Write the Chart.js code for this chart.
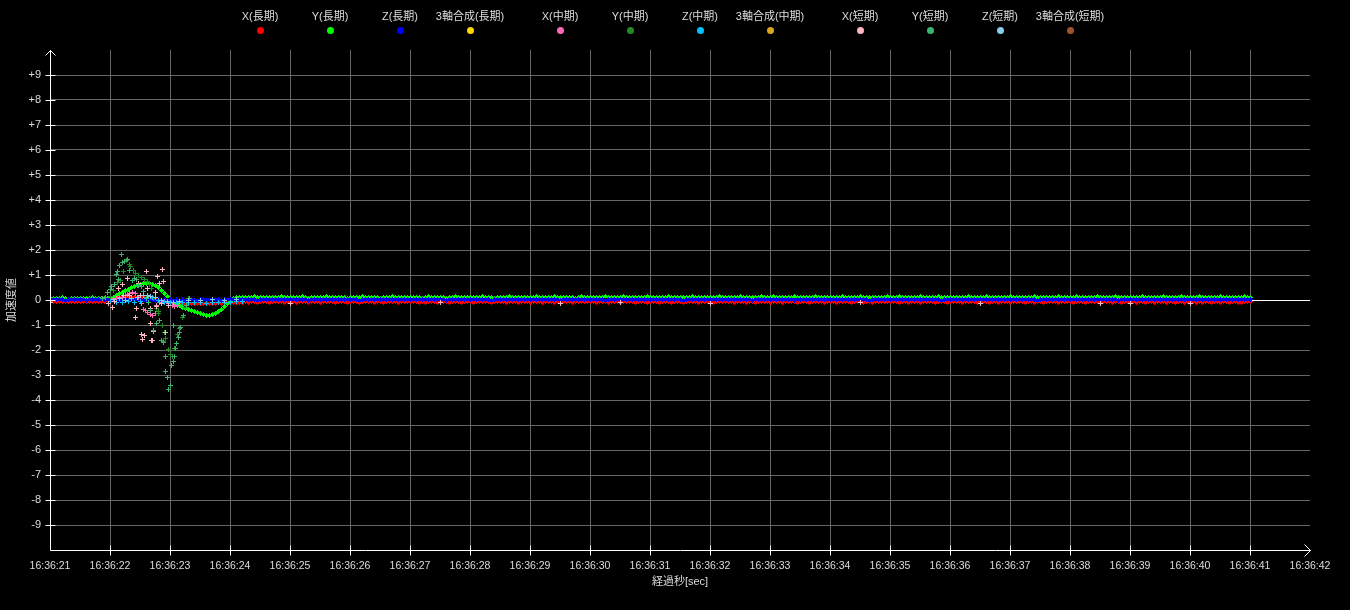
<!DOCTYPE html>
<html lang="ja">
<head>
<meta charset="utf-8">
<title>加速度値</title>
<script src="https://cdn.jsdelivr.net/npm/chart.js@4.4.1/dist/chart.umd.min.js"></script>
<style>
  html, body { margin: 0; padding: 0; background: #000; }
  #wrap { position: relative; width: 1350px; height: 610px; background: #000; }
  #legend { position: absolute; left: 0; top: 0; width: 1350px; height: 40px; }
  .lg-item {
    position: absolute; top: 9px; width: 120px; text-align: center;
    color: #ddd; font: 11px 'Liberation Sans', 'Noto Sans CJK JP', sans-serif; line-height: 14px;
    white-space: nowrap;
  }
  .lg-dot { display: block; width: 7px; height: 7px; border-radius: 50%; margin: 4px auto 0; }
</style>
</head>
<body>
<div id="wrap">
  <canvas id="accelChart" width="1350" height="610"></canvas>
  <div id="legend"></div>
</div>
<script>
// 系列名
const seriesLabels = [
    'X(長期)', 'Y(長期)', 'Z(長期)', '3軸合成(長期)',
    'X(中期)', 'Y(中期)', 'Z(中期)', '3軸合成(中期)',
    'X(短期)', 'Y(短期)', 'Z(短期)', '3軸合成(短期)'
];
const startSecond = 21; // 16:36:21

// 長期: 0.05秒ごとのサンプル (16:36:21.00 〜 16:36:41.00)
const xLong = [
    -0.04,-0.05,-0.06,-0.04,-0.05,-0.07,-0.04,-0.06,-0.05,-0.04,-0.06,-0.05,-0.07,-0.04,-0.05,-0.06,-0.04,-0.05,-0.06,-0.03,
    0.02,0.05,0.08,0.1,0.12,0.12,0.13,0.12,0.12,0.11,0.1,0.09,0.08,0.06,0.05,0.03,0.02,0.0,-0.03,-0.06,
    -0.08,-0.1,-0.12,-0.13,-0.14,-0.14,-0.15,-0.14,-0.13,-0.14,-0.15,-0.14,-0.13,-0.12,-0.13,-0.12,-0.11,-0.12,-0.1,-0.11,
    -0.1,-0.09,-0.1,-0.08,-0.09,-0.07,-0.08,-0.06,-0.07,-0.08,-0.06,-0.07,-0.05,-0.08,-0.06,-0.07,-0.05,-0.06,-0.08,-0.06,
    -0.06,-0.05,-0.08,-0.07,-0.04,-0.06,-0.09,-0.05,-0.07,-0.06,-0.08,-0.05,-0.06,-0.07,-0.04,-0.08,-0.06,-0.05,-0.07,-0.09,
    -0.05,-0.07,-0.06,-0.08,-0.05,-0.06,-0.04,-0.07,-0.09,-0.06,-0.05,-0.08,-0.07,-0.06,-0.05,-0.07,-0.08,-0.06,-0.04,-0.07,
    -0.07,-0.06,-0.05,-0.08,-0.06,-0.09,-0.07,-0.05,-0.06,-0.08,-0.07,-0.04,-0.06,-0.08,-0.05,-0.07,-0.06,-0.09,-0.05,-0.06,
    -0.06,-0.08,-0.07,-0.05,-0.06,-0.07,-0.05,-0.08,-0.06,-0.04,-0.07,-0.06,-0.08,-0.05,-0.07,-0.06,-0.09,-0.05,-0.06,-0.07,
    -0.08,-0.05,-0.06,-0.07,-0.09,-0.06,-0.05,-0.07,-0.08,-0.06,-0.05,-0.07,-0.04,-0.06,-0.08,-0.07,-0.05,-0.06,-0.07,-0.05,
    -0.05,-0.06,-0.08,-0.06,-0.07,-0.05,-0.08,-0.06,-0.05,-0.07,-0.09,-0.06,-0.07,-0.05,-0.06,-0.08,-0.04,-0.07,-0.06,-0.08,
    -0.07,-0.05,-0.06,-0.08,-0.05,-0.07,-0.06,-0.09,-0.07,-0.05,-0.06,-0.08,-0.06,-0.07,-0.05,-0.06,-0.08,-0.07,-0.05,-0.06,
    -0.06,-0.08,-0.05,-0.07,-0.06,-0.04,-0.07,-0.06,-0.08,-0.05,-0.07,-0.06,-0.09,-0.05,-0.07,-0.08,-0.06,-0.05,-0.07,-0.06,
    -0.08,-0.06,-0.07,-0.05,-0.08,-0.06,-0.05,-0.07,-0.06,-0.09,-0.05,-0.06,-0.07,-0.08,-0.05,-0.06,-0.07,-0.05,-0.08,-0.06,
    -0.05,-0.07,-0.08,-0.06,-0.05,-0.07,-0.06,-0.08,-0.05,-0.06,-0.07,-0.09,-0.06,-0.05,-0.08,-0.07,-0.06,-0.04,-0.07,-0.06,
    -0.07,-0.06,-0.05,-0.08,-0.07,-0.06,-0.09,-0.05,-0.07,-0.06,-0.08,-0.05,-0.06,-0.07,-0.06,-0.08,-0.05,-0.07,-0.06,-0.08,
    -0.06,-0.05,-0.07,-0.06,-0.08,-0.05,-0.07,-0.06,-0.05,-0.08,-0.06,-0.07,-0.05,-0.09,-0.06,-0.07,-0.08,-0.06,-0.05,-0.07,
    -0.08,-0.07,-0.06,-0.05,-0.07,-0.08,-0.06,-0.05,-0.09,-0.07,-0.06,-0.08,-0.05,-0.07,-0.06,-0.05,-0.08,-0.07,-0.06,-0.05,
    -0.06,-0.08,-0.07,-0.06,-0.05,-0.08,-0.07,-0.06,-0.05,-0.07,-0.08,-0.06,-0.07,-0.05,-0.09,-0.06,-0.07,-0.08,-0.05,-0.06,
    -0.07,-0.05,-0.08,-0.07,-0.06,-0.09,-0.05,-0.07,-0.08,-0.06,-0.07,-0.05,-0.08,-0.06,-0.07,-0.09,-0.06,-0.05,-0.08,-0.07,
    -0.06,-0.07,-0.09,-0.05,-0.08,-0.06,-0.07,-0.08,-0.06,-0.05,-0.09,-0.07,-0.06,-0.08,-0.07,-0.05,-0.08,-0.09,-0.06,-0.07,
    -0.06
];
const yLong = [
    0.06,0.08,0.05,0.07,0.09,0.06,0.04,0.07,0.08,0.06,0.05,0.08,0.07,0.06,0.09,0.05,0.07,0.06,0.08,0.06,
    0.05,0.1,0.18,0.25,0.32,0.38,0.44,0.49,0.54,0.58,0.62,0.65,0.67,0.67,0.64,0.58,0.5,0.4,0.28,0.15,
    0.0,-0.08,-0.15,-0.22,-0.28,-0.33,-0.37,-0.41,-0.45,-0.5,-0.54,-0.58,-0.6,-0.6,-0.58,-0.53,-0.47,-0.38,-0.27,-0.15,
    -0.04,0.06,0.1,0.11,0.09,0.12,0.1,0.11,0.13,0.1,0.09,0.12,0.11,0.1,0.12,0.09,0.11,0.13,0.1,0.11,
    0.1,0.12,0.09,0.11,0.13,0.1,0.08,0.11,0.12,0.1,0.09,0.11,0.13,0.1,0.12,0.09,0.11,0.1,0.12,0.08,
    0.11,0.09,0.12,0.1,0.13,0.11,0.09,0.1,0.12,0.11,0.08,0.12,0.1,0.11,0.13,0.09,0.1,0.12,0.11,0.1,
    0.09,0.12,0.1,0.11,0.08,0.12,0.13,0.1,0.09,0.11,0.12,0.1,0.08,0.11,0.1,0.13,0.12,0.09,0.11,0.1,
    0.12,0.1,0.11,0.09,0.13,0.1,0.12,0.11,0.08,0.1,0.12,0.11,0.1,0.13,0.09,0.11,0.12,0.1,0.09,0.12,
    0.1,0.11,0.13,0.09,0.1,0.12,0.11,0.1,0.13,0.12,0.09,0.1,0.11,0.12,0.1,0.08,0.11,0.13,0.1,0.11,
    0.11,0.1,0.09,0.12,0.11,0.13,0.1,0.09,0.11,0.12,0.1,0.13,0.11,0.09,0.12,0.1,0.11,0.1,0.12,0.13,
    0.1,0.12,0.11,0.1,0.09,0.11,0.13,0.12,0.1,0.09,0.11,0.12,0.1,0.11,0.13,0.1,0.09,0.12,0.11,0.1,
    0.12,0.11,0.1,0.13,0.1,0.09,0.12,0.11,0.1,0.12,0.13,0.1,0.09,0.11,0.1,0.12,0.11,0.13,0.1,0.09,
    0.11,0.13,0.1,0.12,0.11,0.1,0.09,0.12,0.13,0.11,0.1,0.12,0.11,0.09,0.1,0.13,0.12,0.1,0.11,0.12,
    0.1,0.09,0.12,0.11,0.13,0.1,0.11,0.12,0.1,0.09,0.13,0.11,0.12,0.1,0.11,0.09,0.12,0.11,0.1,0.13,
    0.12,0.1,0.11,0.13,0.09,0.12,0.1,0.11,0.12,0.1,0.13,0.09,0.11,0.12,0.1,0.11,0.13,0.1,0.12,0.11,
    0.11,0.12,0.1,0.09,0.12,0.11,0.13,0.1,0.11,0.12,0.09,0.1,0.13,0.11,0.12,0.1,0.09,0.11,0.12,0.1,
    0.13,0.11,0.1,0.12,0.11,0.09,0.1,0.12,0.13,0.11,0.1,0.12,0.11,0.1,0.09,0.12,0.13,0.11,0.1,0.12,
    0.1,0.12,0.13,0.11,0.1,0.12,0.09,0.11,0.1,0.13,0.12,0.11,0.1,0.12,0.11,0.13,0.1,0.09,0.12,0.11,
    0.12,0.11,0.09,0.1,0.13,0.12,0.11,0.1,0.12,0.09,0.11,0.13,0.12,0.1,0.11,0.12,0.1,0.13,0.11,0.1,
    0.11,0.1,0.12,0.13,0.11,0.09,0.12,0.1,0.11,0.12,0.13,0.11,0.1,0.12,0.09,0.11,0.12,0.1,0.13,0.11,
    0.12
];
const zLong = [
    0.02,0.03,0.01,0.04,0.02,0.0,0.03,0.02,0.04,0.01,0.02,0.03,0.0,0.02,0.04,0.01,0.03,0.02,0.01,0.03,
    0.02,0.01,0.03,0.0,0.02,0.01,-0.01,0.02,0.0,0.01,0.03,0.0,-0.01,0.02,0.01,0.0,0.02,-0.01,0.01,0.0,
    0.01,0.0,0.02,-0.01,0.01,0.0,0.02,0.01,-0.01,0.0,0.02,0.01,0.0,0.02,-0.01,0.01,0.02,0.0,0.01,0.02,
    0.02,0.03,0.01,0.02,0.04,0.02,0.01,0.03,0.02,0.0,0.03,0.02,0.04,0.01,0.02,0.03,0.01,0.02,0.04,0.02,
    0.03,0.01,0.02,0.04,0.02,0.03,0.0,0.02,0.03,0.01,0.04,0.02,0.01,0.03,0.02,0.04,0.02,0.01,0.03,0.02,
    0.01,0.03,0.02,0.0,0.03,0.02,0.04,0.01,0.02,0.03,0.02,0.01,0.04,0.02,0.03,0.01,0.02,0.04,0.02,0.03,
    0.02,0.04,0.01,0.03,0.02,0.01,0.03,0.04,0.02,0.01,0.02,0.03,0.0,0.02,0.04,0.03,0.01,0.02,0.03,0.01,
    0.03,0.02,0.04,0.01,0.02,0.03,0.02,0.0,0.03,0.04,0.01,0.02,0.03,0.02,0.01,0.04,0.02,0.03,0.01,0.02,
    0.02,0.01,0.03,0.02,0.04,0.02,0.01,0.03,0.02,0.03,0.0,0.04,0.02,0.01,0.03,0.02,0.04,0.01,0.02,0.03,
    0.04,0.02,0.01,0.03,0.02,0.0,0.03,0.02,0.04,0.01,0.03,0.02,0.01,0.04,0.02,0.03,0.02,0.01,0.03,0.02,
    0.01,0.03,0.04,0.02,0.01,0.03,0.02,0.04,0.01,0.02,0.03,0.0,0.02,0.03,0.04,0.01,0.02,0.03,0.02,0.04,
    0.03,0.02,0.01,0.04,0.03,0.02,0.01,0.02,0.03,0.04,0.02,0.01,0.03,0.02,0.0,0.03,0.04,0.02,0.01,0.03,
    0.02,0.04,0.03,0.01,0.02,0.03,0.04,0.02,0.0,0.03,0.02,0.04,0.01,0.03,0.02,0.01,0.03,0.04,0.02,0.01,
    0.03,0.01,0.02,0.03,0.04,0.01,0.02,0.03,0.02,0.04,0.01,0.03,0.02,0.0,0.03,0.02,0.04,0.01,0.03,0.02,
    0.01,0.02,0.04,0.02,0.03,0.01,0.03,0.02,0.04,0.02,0.01,0.03,0.04,0.02,0.01,0.02,0.03,0.0,0.02,0.04,
    0.02,0.03,0.01,0.04,0.02,0.03,0.02,0.01,0.03,0.02,0.04,0.02,0.03,0.01,0.04,0.02,0.01,0.03,0.02,0.03,
    0.04,0.02,0.03,0.01,0.02,0.04,0.01,0.03,0.02,0.0,0.02,0.03,0.04,0.02,0.01,0.03,0.02,0.04,0.01,0.02,
    0.02,0.03,0.02,0.04,0.01,0.02,0.03,0.04,0.01,0.03,0.02,0.01,0.02,0.04,0.03,0.02,0.0,0.03,0.02,0.04,
    0.03,0.01,0.04,0.02,0.03,0.02,0.01,0.03,0.04,0.02,0.03,0.01,0.02,0.03,0.02,0.04,0.03,0.01,0.02,0.03,
    0.01,0.03,0.02,0.03,0.04,0.02,0.03,0.01,0.02,0.04,0.02,0.03,0.01,0.02,0.04,0.03,0.02,0.01,0.03,0.02,
    0.02
];

// X(短期): 静かな区間で帯の下にのぞく値 (0.5秒ごと、見えない所は null)
const xShortCalm = [-0.11,null,null,null,null,null,null,null,-0.12,null,null,null,null,-0.11,null,null,null,-0.12,null,-0.11,null,null,-0.12,null,null,null,null,-0.11,null,null,null,-0.12,null,null,null,-0.13,-0.13,null,-0.13,null,null];

// 揺れの区間の個別サンプル (経過秒, 値)
const xMidT = [1.05,1.1,1.15,1.2,1.25,1.29,1.33,1.37,1.42,1.47,1.52,1.56,1.59,1.63,1.68,1.71,1.75,1.78,1.83,1.9,1.97,2.04,2.08,2.12,2.2];
const xMidV = [0.05,0.08,0.12,0.1,0.18,0.22,0.27,0.3,0.25,0.12,-0.15,-0.37,-0.42,-0.48,-0.58,-0.62,-0.52,-0.2,-0.1,-0.05,-0.12,-0.2,-0.27,-0.22,-0.1];
const yMidT = [1.0,1.06,1.12,1.17,1.22,1.28,1.32,1.34,1.39,1.42,1.47,1.53,1.57,1.63,1.66,1.69,1.73,1.77,1.8,1.81,1.83,1.87,1.89,1.9,1.93,1.97,2.01,2.04,2.08,2.12,2.16,2.2,2.25,2.3];
const yMidV = [0.15,0.4,0.7,0.8,1.13,1.57,1.44,1.36,1.2,1.07,1.0,0.91,0.83,0.76,0.62,0.47,0.07,-0.33,-0.44,-0.53,-0.8,-1.0,-1.67,-1.31,-1.55,-1.97,-2.17,-2.24,-1.93,-1.36,-1.13,-0.7,-0.3,0.05];
const zMidT = [1.0,1.1,1.2,1.3,1.4,1.5,1.6,1.7,1.8,1.9,2.0,2.1,2.2,2.3,2.4,2.5,2.6,2.7,2.8,2.9,3.0,3.1,3.2];
const zMidV = [-0.04,-0.08,-0.1,-0.06,-0.09,-0.05,0.05,0.1,-0.02,-0.08,-0.1,-0.09,-0.11,-0.08,-0.1,-0.09,-0.12,-0.1,-0.08,-0.11,-0.09,-0.07,-0.05];
const xShortT = [0.97,1.04,1.08,1.14,1.21,1.22,1.29,1.33,1.42,1.44,1.47,1.5,1.53,1.54,1.58,1.61,1.63,1.67,1.68,1.69,1.71,1.72,1.75,1.77,1.79,1.82,1.86,1.87,1.89,1.93,1.97,2.05];
const xShortV = [-0.13,-0.31,-0.07,0.47,0.63,0.2,0.87,0.2,-0.69,-0.33,0.67,0.2,-1.36,-1.57,-1.43,1.13,0.47,-0.33,-0.93,-1.63,-1.6,-1.27,0.29,-0.27,0.96,0.67,-0.13,1.23,0.73,-1.31,-0.2,-0.1];
const yShortT = [0.88,0.93,0.96,1.0,1.03,1.07,1.1,1.12,1.14,1.16,1.19,1.21,1.24,1.29,1.33,1.37,1.41,1.44,1.48,1.52,1.56,1.6,1.64,1.68,1.73,1.77,1.82,1.86,1.89,1.92,1.93,1.96,1.98,2.01,2.03,2.05,2.06,2.07,2.09,2.11,2.14,2.16,2.18,2.22,2.27,2.33];
const yShortV = [0.05,0.12,0.31,0.42,0.55,0.64,1.04,1.13,0.83,1.4,1.83,1.49,1.55,1.63,1.2,0.8,0.85,0.83,0.6,0.55,0.35,0.12,-0.1,-0.4,-1.23,-0.95,-0.8,-1.6,-1.71,-2.27,-2.87,-3.1,-3.56,-3.43,-2.6,-2.45,-1.0,-2.27,-1.95,-1.73,-1.5,-1.31,-1.09,-0.6,-0.2,0.05];
const zShortT = [1.05,1.15,1.25,1.35,1.45,1.55,1.62,1.68,1.75,1.85,1.95,2.05,2.15,2.3,2.5,2.7,2.9,3.1];
const zShortV = [0.02,0.05,-0.03,0.08,0.12,0.18,0.2,0.15,0.1,0.0,-0.05,-0.08,-0.04,0.0,-0.03,0.02,-0.02,0.01];

const SAMPLE_STEP = 0.05;
const CALM_STEP = 0.5;

const seriesColors = [
    '#ff0000', '#00ff00', '#0000ff', '#ffd700',
    '#ff69b4', '#228b22', '#00bfff', '#daa520',
    '#ffb6c1', '#3cb371', '#87ceeb', '#a0522d'
];

const FONT = "'Liberation Sans', 'Noto Sans CJK JP', sans-serif";
const TEXT_COLOR = '#dddddd';
const GRID_COLOR = '#666666';

function longPoints(values) {
    return values.map((v, i) => ({ x: +(i * SAMPLE_STEP).toFixed(2), y: v }));
}

function burstPoints(times, values, calm) {
    const pts = [];
    if (calm) calm.forEach((v, i) => { if (v !== null) pts.push({ x: i * CALM_STEP, y: v }); });
    times.forEach((t, i) => pts.push({ x: t, y: values[i] }));
    return pts;
}

// くっきりしたマーカー: 長期は太め、中期・短期は細い十字
const LONG_MARK = ['..#..', '.###.', '#####', '.###.', '..#..'];
const THIN_MARK = ['..#..', '..#..', '#####', '..#..', '..#..'];
function marker(color, rows) {
    const c = document.createElement('canvas');
    c.width = rows[0].length;
    c.height = rows.length;
    const g = c.getContext('2d');
    g.fillStyle = color;
    rows.forEach((row, r) => {
        for (let k = 0; k < row.length; k++) if (row[k] === '#') g.fillRect(k, r, 1, 1);
    });
    return c;
}

const seriesData = [
    longPoints(xLong), longPoints(yLong), longPoints(zLong), [],
    burstPoints(xMidT, xMidV), burstPoints(yMidT, yMidV), burstPoints(zMidT, zMidV), [],
    burstPoints(xShortT, xShortV, xShortCalm), burstPoints(yShortT, yShortV), burstPoints(zShortT, zShortV), []
];

const crispPoints = {
    id: 'crispPoints',
    beforeDatasetsDraw(chart) { chart.ctx.imageSmoothingEnabled = false; },
    afterDatasetsDraw(chart) { chart.ctx.imageSmoothingEnabled = true; }
};

// 軸線・矢印・目盛り線
const axisArrows = {
    id: 'axisArrows',
    afterDatasetsDraw(chart) {
        const { ctx, chartArea: a, scales: { x, y } } = chart;
        const x0 = Math.round(a.left) + 0.5;
        const yb = Math.round(a.bottom) + 0.5;
        const xr = Math.round(a.right) + 0.5;
        const yt = Math.round(a.top) + 0.5;
        ctx.save();
        ctx.strokeStyle = '#ffffff';
        ctx.lineWidth = 1;
        ctx.beginPath();
        ctx.moveTo(x0, yb);
        ctx.lineTo(x0, yt);
        ctx.moveTo(x0 - 5, yt + 5);
        ctx.lineTo(x0, yt);
        ctx.lineTo(x0 + 5, yt + 5);
        ctx.moveTo(x0, yb);
        ctx.lineTo(xr, yb);
        ctx.moveTo(xr - 6, yb - 6);
        ctx.lineTo(xr, yb);
        ctx.lineTo(xr - 6, yb + 6);
        y.ticks.forEach(t => {
            if (Math.abs(t.value) < 10) {
                const py = Math.round(y.getPixelForValue(t.value)) + 0.5;
                ctx.moveTo(x0 - 5, py);
                ctx.lineTo(x0 + 5, py);
            }
        });
        x.ticks.forEach(t => {
            if (t.value > 0 && t.value < 21) {
                const px = Math.round(x.getPixelForValue(t.value)) + 0.5;
                ctx.moveTo(px, yb - 5);
                ctx.lineTo(px, yb + 5);
            }
        });
        ctx.stroke();
        ctx.restore();
    }
};

Chart.defaults.font.family = FONT;
Chart.defaults.font.size = 11;
Chart.defaults.color = TEXT_COLOR;

const chart = new Chart(document.getElementById('accelChart').getContext('2d'), {
    type: 'scatter',
    data: {
        datasets: seriesLabels.map((label, i) => ({
            label: label,
            data: seriesData[i],
            order: seriesLabels.length - i, // 後の系列ほど手前に描く
            pointStyle: marker(seriesColors[i], i < 4 ? LONG_MARK : THIN_MARK),
            pointRadius: 3,
            borderWidth: 0,
            borderColor: seriesColors[i],
            backgroundColor: seriesColors[i]
        }))
    },
    options: {
        responsive: false,
        animation: false,
        events: [],
        layout: { padding: { top: 50, right: 40, left: 0, bottom: 0 } },
        plugins: {
            legend: { display: false },
            tooltip: { enabled: false }
        },
        scales: {
            x: {
                type: 'linear',
                min: 0,
                max: 21,
                afterFit: s => { s.height = 60; },
                border: { display: false },
                grid: {
                    drawTicks: false,
                    color: c => (c.tick.value === 0 || c.tick.value === 21) ? 'rgba(0,0,0,0)' : GRID_COLOR
                },
                ticks: {
                    stepSize: 1,
                    autoSkip: false,
                    maxRotation: 0,
                    padding: 10,
                    color: TEXT_COLOR,
                    font: { size: 10.5 },
                    callback: v => '16:36:' + (startSecond + v)
                },
                title: {
                    display: true,
                    text: '経過秒[sec]',
                    color: TEXT_COLOR,
                    padding: { top: 4, bottom: 21 }
                }
            },
            y: {
                min: -10,
                max: 10,
                afterFit: s => { s.width = 50; },
                border: { display: false },
                grid: {
                    drawTicks: false,
                    color: c => {
                        if (c.tick.value === 0) return '#ffffff';
                        if (Math.abs(c.tick.value) === 10) return 'rgba(0,0,0,0)';
                        return GRID_COLOR;
                    }
                },
                ticks: {
                    stepSize: 1,
                    padding: 9,
                    color: TEXT_COLOR,
                    callback: v => Math.abs(v) === 10 ? '' : (v > 0 ? '+' + v : String(v))
                },
                title: {
                    display: true,
                    text: '加速度値',
                    color: TEXT_COLOR,
                    padding: { top: 5, bottom: 4 }
                }
            }
        }
    },
    plugins: [crispPoints, axisArrows]
});

// 凡例 (文字の下に色の点)
const legendEl = document.getElementById('legend');
chart.data.datasets.forEach((ds, i) => {
    const cx = 260 + Math.floor(i / 4) * 300 + (i % 4) * 70;
    const item = document.createElement('div');
    item.className = 'lg-item';
    item.style.left = (cx - 60) + 'px';
    item.textContent = ds.label;
    const dot = document.createElement('span');
    dot.className = 'lg-dot';
    dot.style.background = ds.borderColor;
    item.appendChild(dot);
    legendEl.appendChild(item);
});
</script>
</body>
</html>
